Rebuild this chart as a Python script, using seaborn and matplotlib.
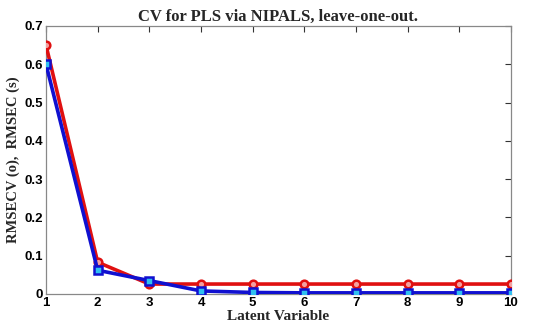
import matplotlib
matplotlib.use("Agg")
import matplotlib.pyplot as plt
import seaborn as sns
import pandas as pd

latent = [1, 2, 3, 4, 5, 6, 7, 8, 9, 10]
rmsecv = [0.650, 0.083, 0.026, 0.026, 0.026, 0.026, 0.026, 0.026, 0.026, 0.026]
rmsec = [0.600, 0.062, 0.035, 0.008, 0.004, 0.003, 0.003, 0.003, 0.003, 0.003]
yticks = [0, 0.1, 0.2, 0.3, 0.4, 0.5, 0.6, 0.7]

sns.set_style("white")
plt.rcParams['font.family'] = ['Liberation Sans', 'DejaVu Sans']

df = pd.DataFrame({"lv": latent, "cv": rmsecv, "c": rmsec})

fig = plt.figure(figsize=(5.34, 3.32), dpi=100)
ax = fig.add_axes([46/534, 1-294/332, (511-46)/534, (294-26)/332])

sns.lineplot(data=df, x="lv", y="cv", ax=ax, color="#e01010", lw=2.6,
             marker="o", markersize=5.5, markeredgewidth=1.8,
             markeredgecolor="#e01010", markerfacecolor="#f4a0a0", zorder=3)
sns.lineplot(data=df, x="lv", y="c", ax=ax, color="#1010d0", lw=2.6,
             marker="s", markersize=5.5, markeredgewidth=1.8,
             markeredgecolor="#1010d0", markerfacecolor="#30c0f0", zorder=4)

ax.set_xlim(1, 10)
ax.set_ylim(0, 0.7)
ax.set_xticks(latent)
ax.set_yticks(yticks)
ax.set_xticklabels([str(v) for v in latent])
ax.set_yticklabels(["0", "0.1", "0.2", "0.3", "0.4", "0.5", "0.6", "0.7"])
ax.tick_params(direction="in", length=4, width=0.8, top=True, right=True,
               labelsize=9.5, pad=2, colors="#333333", labelcolor="black")
for lab in ax.get_xticklabels() + ax.get_yticklabels():
    lab.set_fontweight("bold")
for s in ax.spines.values():
    s.set_color("#888888")
    s.set_linewidth(0.9)

serif = ['Liberation Serif', 'DejaVu Serif']
ax.set_title("CV for PLS via NIPALS, leave-one-out.", family=serif,
             fontweight="bold", fontsize=12, pad=4)
ax.set_xlabel("Latent Variable", family=serif, fontweight="bold", fontsize=11, labelpad=1)
ax.set_ylabel("RMSECV (o),  RMSEC (s)", family=serif, fontweight="bold", fontsize=10.5, labelpad=3)

fig.savefig("out.png", dpi=100)
